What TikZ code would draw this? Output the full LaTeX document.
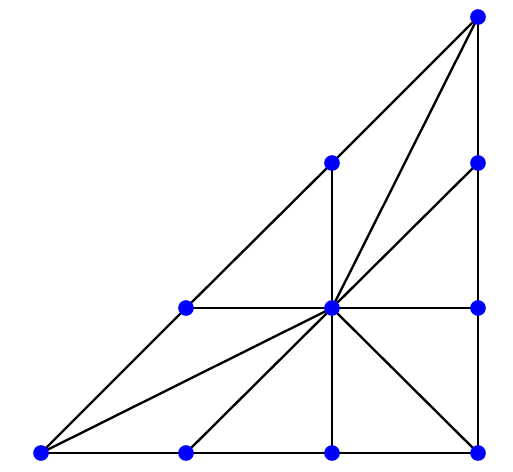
\documentclass[tikz,border=0pt]{standalone}
\usetikzlibrary{backgrounds}
\definecolor{dotblue}{RGB}{0,0,255}
\begin{document}
\begin{tikzpicture}[x=0.03cm,y=-0.03cm,
  edge/.style={line width=2pt,black},
  dot/.style={circle,fill=dotblue,inner sep=0pt,minimum size=0.47cm}]
\node[dot] (A) at (41,453) {};
\node[dot] (B) at (186,453) {};
\node[dot] (C) at (332,453) {};
\node[dot] (D) at (478,453) {};
\node[dot] (E) at (186,308) {};
\node[dot] (F) at (332,308) {};
\node[dot] (G) at (478,308) {};
\node[dot] (H) at (332,163) {};
\node[dot] (I) at (478,163) {};
\node[dot] (J) at (478,17) {};
\begin{scope}[on background layer]
\fill[white] (0,0) rectangle (513,471);
\draw[edge] (A.center) -- (B.center) -- (C.center) -- (D.center);
\draw[edge] (D.center) -- (G.center) -- (I.center) -- (J.center);
\draw[edge] (A.center) -- (E.center) -- (H.center) -- (J.center);
\draw[edge] (E.center) -- (F.center) -- (G.center);
\draw[edge] (H.center) -- (F.center) -- (C.center);
\draw[edge] (A.center) -- (F.center);
\draw[edge] (B.center) -- (F.center);
\draw[edge] (F.center) -- (D.center);
\draw[edge] (F.center) -- (J.center);
\draw[edge] (F.center) -- (I.center);
\end{scope}
\useasboundingbox (0,0) rectangle (513,471);
\end{tikzpicture}
\end{document}
